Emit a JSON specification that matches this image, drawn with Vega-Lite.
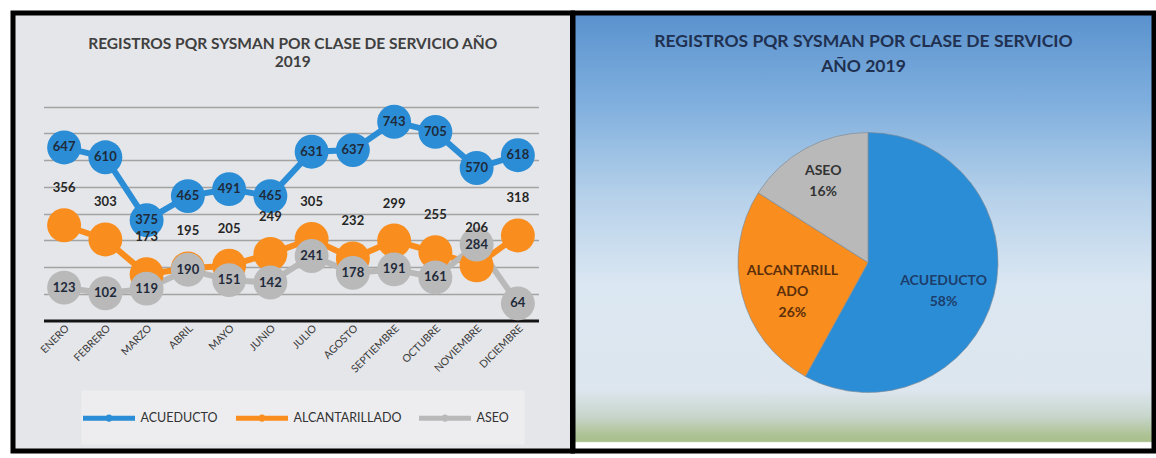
{
  "$schema": "https://vega.github.io/schema/vega-lite/v6.json",
  "background": "white",
  "padding": {"left": 10, "top": 10, "right": 0, "bottom": 0},
  "spacing": 0,
  "bounds": "flush",
  "config": {"font": "Lato", "view": {"stroke": "black", "strokeWidth": 5}},
  "datasets": {
    "meses": [
      {"mes": "ENERO", "serie": "ALCANTARILLADO", "valor": 356},
      {"mes": "FEBRERO", "serie": "ALCANTARILLADO", "valor": 303},
      {"mes": "MARZO", "serie": "ALCANTARILLADO", "valor": 173},
      {"mes": "ABRIL", "serie": "ALCANTARILLADO", "valor": 195},
      {"mes": "MAYO", "serie": "ALCANTARILLADO", "valor": 205},
      {"mes": "JUNIO", "serie": "ALCANTARILLADO", "valor": 249},
      {"mes": "JULIO", "serie": "ALCANTARILLADO", "valor": 305},
      {"mes": "AGOSTO", "serie": "ALCANTARILLADO", "valor": 232},
      {"mes": "SEPTIEMBRE", "serie": "ALCANTARILLADO", "valor": 299},
      {"mes": "OCTUBRE", "serie": "ALCANTARILLADO", "valor": 255},
      {"mes": "NOVIEMBRE", "serie": "ALCANTARILLADO", "valor": 206},
      {"mes": "DICIEMBRE", "serie": "ALCANTARILLADO", "valor": 318},
      {"mes": "ENERO", "serie": "ASEO", "valor": 123},
      {"mes": "FEBRERO", "serie": "ASEO", "valor": 102},
      {"mes": "MARZO", "serie": "ASEO", "valor": 119},
      {"mes": "ABRIL", "serie": "ASEO", "valor": 190},
      {"mes": "MAYO", "serie": "ASEO", "valor": 151},
      {"mes": "JUNIO", "serie": "ASEO", "valor": 142},
      {"mes": "JULIO", "serie": "ASEO", "valor": 241},
      {"mes": "AGOSTO", "serie": "ASEO", "valor": 178},
      {"mes": "SEPTIEMBRE", "serie": "ASEO", "valor": 191},
      {"mes": "OCTUBRE", "serie": "ASEO", "valor": 161},
      {"mes": "NOVIEMBRE", "serie": "ASEO", "valor": 284},
      {"mes": "DICIEMBRE", "serie": "ASEO", "valor": 64},
      {"mes": "ENERO", "serie": "ACUEDUCTO", "valor": 647},
      {"mes": "FEBRERO", "serie": "ACUEDUCTO", "valor": 610},
      {"mes": "MARZO", "serie": "ACUEDUCTO", "valor": 375},
      {"mes": "ABRIL", "serie": "ACUEDUCTO", "valor": 465},
      {"mes": "MAYO", "serie": "ACUEDUCTO", "valor": 491},
      {"mes": "JUNIO", "serie": "ACUEDUCTO", "valor": 465},
      {"mes": "JULIO", "serie": "ACUEDUCTO", "valor": 631},
      {"mes": "AGOSTO", "serie": "ACUEDUCTO", "valor": 637},
      {"mes": "SEPTIEMBRE", "serie": "ACUEDUCTO", "valor": 743},
      {"mes": "OCTUBRE", "serie": "ACUEDUCTO", "valor": 705},
      {"mes": "NOVIEMBRE", "serie": "ACUEDUCTO", "valor": 570},
      {"mes": "DICIEMBRE", "serie": "ACUEDUCTO", "valor": 618}
    ],
    "torta": [
      {"clase": "ACUEDUCTO", "orden": 1, "porcentaje": 58, "etiqueta": "ACUEDUCTO\n58%"},
      {"clase": "ALCANTARILLADO", "orden": 2, "porcentaje": 26, "etiqueta": "ALCANTARILL\nADO\n26%"},
      {"clase": "ASEO", "orden": 3, "porcentaje": 16, "etiqueta": "ASEO\n16%"}
    ]
  },
  "hconcat": [
    {
      "width": 559.5,
      "height": 438,
      "view": {"fill": "#e5e6e9", "stroke": "black", "strokeWidth": 5},
      "title": {
        "text": ["REGISTROS PQR  SYSMAN POR CLASE DE SERVICIO AÑO", "2019"],
        "font": "Lato",
        "fontSize": 15.5,
        "fontWeight": "bold",
        "color": "#404040",
        "lineHeight": 18,
        "anchor": "middle",
        "offset": -57
      },
      "data": {"name": "meses"},
      "encoding": {
        "x": {
          "field": "mes",
          "type": "ordinal",
          "sort": ["ENERO", "FEBRERO", "MARZO", "ABRIL", "MAYO", "JUNIO", "JULIO", "AGOSTO", "SEPTIEMBRE", "OCTUBRE", "NOVIEMBRE", "DICIEMBRE"],
          "scale": {"type": "point", "range": [30.5, 525.5], "padding": 0.5},
          "axis": {
            "title": null,
            "orient": "bottom",
            "offset": -130.5,
            "domainColor": "#141414",
            "domainWidth": 3,
            "ticks": false,
            "grid": false,
            "labelAngle": -45,
            "labelAlign": "right",
            "labelBaseline": "middle",
            "labelPadding": 6,
            "labelOffset": 3,
            "labelFont": "Lato",
            "labelFontSize": 10.5,
            "labelColor": "#3a3a3a"
          }
        },
        "y": {
          "field": "valor",
          "type": "quantitative",
          "scale": {"domain": [0, 800], "range": [307.5, 93.5]},
          "axis": {
            "title": null,
            "labels": false,
            "ticks": false,
            "domain": false,
            "grid": true,
            "gridColor": "#a3a3a3",
            "gridWidth": 1.5,
            "values": [100, 200, 300, 400, 500, 600, 700, 800]
          }
        }
      },
      "layer": [
        {
          "mark": {"type": "line", "strokeWidth": 6},
          "encoding": {
            "color": {
              "field": "serie",
              "type": "nominal",
              "scale": {"domain": ["ACUEDUCTO", "ALCANTARILLADO", "ASEO"], "range": ["#2b8dd6", "#f98d1d", "#b9b9b9"]},
              "legend": {
                "title": null,
                "orient": "none",
                "legendX": 68.5,
                "legendY": 377.5,
                "direction": "horizontal",
                "symbolType": "M-2.6,0L2.6,0M-0.12,0A0.12,0.12,0,1,0,0.12,0A0.12,0.12,0,1,0,-0.12,0",
                "symbolSize": 400,
                "symbolStrokeWidth": 5,
                "labelFont": "Lato",
                "labelFontSize": 12.5,
                "labelColor": "#333333",
                "labelOffset": 19,
                "columnPadding": 7,
                "fillColor": "#ededf0",
                "padding": 15
              }
            }
          }
        },
        {
          "mark": {"type": "point", "filled": true, "size": 1150, "opacity": 1, "strokeWidth": 0},
          "encoding": {
            "fill": {
              "field": "serie",
              "type": "nominal",
              "scale": {"domain": ["ACUEDUCTO", "ALCANTARILLADO", "ASEO"], "range": ["#2b8dd6", "#f98d1d", "#b9b9b9"]},
              "legend": null
            }
          }
        },
        {
          "transform": [{"filter": "datum.serie === 'ALCANTARILLADO'"}],
          "mark": {"type": "text", "dy": -37, "fontSize": 13, "fontWeight": "bold", "color": "#262626", "font": "Lato"},
          "encoding": {"text": {"field": "valor", "type": "quantitative"}}
        },
        {
          "transform": [{"filter": "datum.serie !== 'ALCANTARILLADO'"}],
          "mark": {"type": "text", "fontSize": 13, "fontWeight": "bold", "color": "#1f2a3a", "font": "Lato"},
          "encoding": {"text": {"field": "valor", "type": "quantitative"}}
        }
      ]
    },
    {
      "width": 581,
      "height": 438,
      "view": {
        "fill": {
          "gradient": "linear",
          "x1": 0, "y1": 0, "x2": 0, "y2": 1,
          "stops": [
            {"offset": 0, "color": "#5a92ce"},
            {"offset": 0.2, "color": "#7eaedd"},
            {"offset": 0.42, "color": "#b6d1ea"},
            {"offset": 0.62, "color": "#dbe7f2"},
            {"offset": 0.86, "color": "#dde6ee"},
            {"offset": 0.92, "color": "#c8d6cd"},
            {"offset": 0.965, "color": "#adc293"},
            {"offset": 0.978, "color": "#a8bf8c"},
            {"offset": 0.981, "color": "#ffffff"},
            {"offset": 1, "color": "#ffffff"}
          ]
        },
        "stroke": "black",
        "strokeWidth": 5
      },
      "title": {
        "text": ["REGISTROS PQR SYSMAN POR CLASE DE SERVICIO", "AÑO 2019"],
        "font": "Lato",
        "fontSize": 17.5,
        "fontWeight": "bold",
        "color": "#1f3050",
        "lineHeight": 25,
        "anchor": "middle",
        "offset": -62
      },
      "data": {"name": "torta"},
      "encoding": {
        "theta": {"field": "porcentaje", "type": "quantitative", "stack": true},
        "order": {"field": "orden", "type": "quantitative"}
      },
      "layer": [
        {
          "mark": {"type": "arc", "outerRadius": 130, "xOffset": 4.5, "yOffset": 30.5, "stroke": "#7f8c99", "strokeWidth": 0.7},
          "encoding": {
            "color": {
              "field": "clase",
              "type": "nominal",
              "scale": {"domain": ["ACUEDUCTO", "ALCANTARILLADO", "ASEO"], "range": ["#2e8bd8", "#f68b1f", "#b4b4b4"]},
              "legend": null
            }
          }
        },
        {
          "mark": {"type": "text", "radius": 78, "xOffset": 4.5, "yOffset": 30.5, "dy": -1, "font": "Lato", "fontWeight": "bold", "fontSize": 14, "lineBreak": "\n", "lineHeight": 21, "baseline": "middle", "align": "center", "color": "#1d3d6b"},
          "encoding": {
            "text": {"field": "etiqueta", "type": "nominal"},
            "opacity": {"condition": {"test": "datum.clase === 'ACUEDUCTO'", "value": 1}, "value": 0}
          }
        },
        {
          "mark": {"type": "text", "radius": 78, "xOffset": 4.5, "yOffset": 30.5, "dy": -11, "font": "Lato", "fontWeight": "bold", "fontSize": 14, "lineBreak": "\n", "lineHeight": 21, "baseline": "middle", "align": "center", "color": "#5c2f0c"},
          "encoding": {
            "text": {"field": "etiqueta", "type": "nominal"},
            "opacity": {"condition": {"test": "datum.clase === 'ALCANTARILLADO'", "value": 1}, "value": 0}
          }
        },
        {
          "mark": {"type": "text", "radius": 93, "xOffset": 4.5, "yOffset": 30.5, "dy": -10, "font": "Lato", "fontWeight": "bold", "fontSize": 14, "lineBreak": "\n", "lineHeight": 21, "baseline": "middle", "align": "center", "color": "#333333"},
          "encoding": {
            "text": {"field": "etiqueta", "type": "nominal"},
            "opacity": {"condition": {"test": "datum.clase === 'ASEO'", "value": 1}, "value": 0}
          }
        }
      ]
    }
  ]
}
